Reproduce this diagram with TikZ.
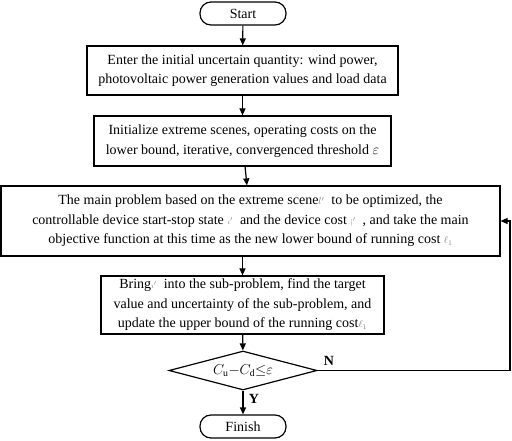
\documentclass[tikz,border=0pt]{standalone}
\usepackage{fontspec}
\setmainfont{Liberation Serif}
\usetikzlibrary{shapes.geometric,arrows.meta}
\begin{document}
\begin{tikzpicture}[x=1pt,y=-1pt,
  every node/.style={font=\fontsize{14}{19.5}\selectfont, align=center, inner sep=0pt},
  box/.style={draw, line width=1.2pt, minimum width=#1},
  term/.style={draw, line width=1.2pt, rounded corners=11pt, minimum width=86pt, minimum height=23pt},
  arr/.style={line width=1.2pt, -{Triangle[length=7pt,width=6pt]}},
  ghost/.style={color=gray!70}]
\useasboundingbox (0,0) rectangle (512,441);
\node[term] (start) at (243,13.5) {Start};
\node[box=311pt, minimum height=49pt] (b1) at (242.5,70.5)
  {Enter the initial uncertain quantity: wind power,\\photovoltaic power generation values and load data};
\node[box=297pt, minimum height=50pt] (b2) at (242.5,141)
  {Initialize extreme scenes, operating costs on the\\lower bound, iterative, convergenced threshold $\varepsilon$};
\node[box=499pt, minimum height=70pt] (b3) at (250.5,221)
  {The main problem based on the extreme scene{\color{gray}$\scriptstyle l'$}\ \ to be optimized, the\\
   controllable device start-stop state {\color{gray}$\scriptscriptstyle\imath'$}\ \ and the device cost {\color{gray}$\scriptscriptstyle|'$}\ \ , and take the main\\
   objective function at this time as the new lower bound of running cost {\color{gray}$\scriptstyle\ell_{\scriptscriptstyle 1}$}};
\node[box=283pt, minimum height=58pt] (b4) at (242.5,305)
  {Bring{\color{gray}$\scriptscriptstyle\imath'$}\ \ into the sub-problem, find the target\\
   value and uncertainty of the sub-problem, and\\
   update the upper bound of the running cost{\color{gray}$\scriptstyle\ell_{\scriptscriptstyle 1}$}};
\node[draw, diamond, line width=1.2pt, minimum width=148pt, minimum height=39pt, aspect=3.8] (dia) at (243,370.5)
  {$C_{\mathrm{u}}{-}C_{\mathrm{d}}{\leq}\varepsilon$};
\node[term] (finish) at (243,426.5) {Finish};
\coordinate (fb) at (510,370.5);
\draw[arr] (start) -- (b1);
\draw[arr] (b1) -- (b2);
\draw[arr] (b2) -- (b3);
\draw[arr] (b3.south -| b4.north) -- (b4);
\draw[arr] (b4) -- (dia);
\draw[arr] (dia) -- (finish);
\draw[arr] (dia.east) -- (fb) |- (b3.east);
\node[font=\fontsize{14}{14}\selectfont\bfseries] (nlab) at (329,361) {N};
\node[font=\fontsize{14}{14}\selectfont\bfseries] (ylab) at (254,399) {Y};
\end{tikzpicture}
\end{document}
